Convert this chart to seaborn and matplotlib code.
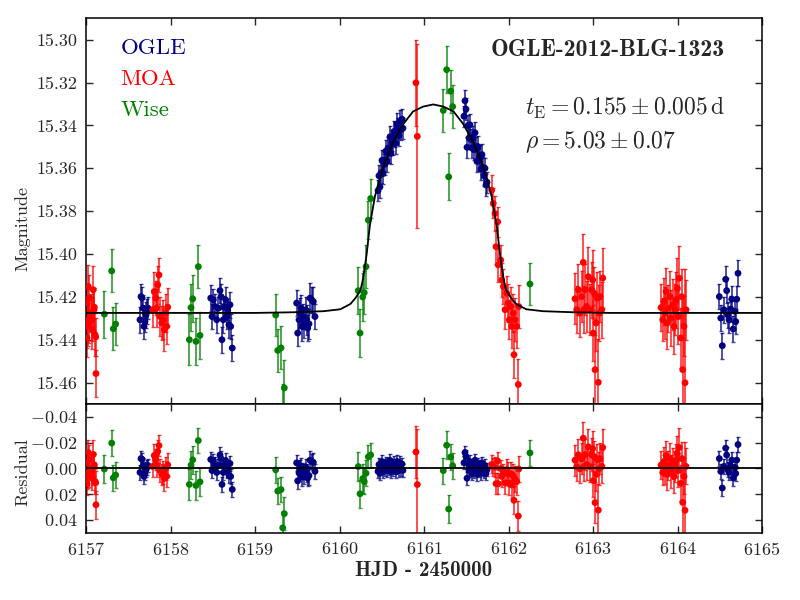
import numpy as np
import pandas as pd
import matplotlib
matplotlib.use("Agg")
import matplotlib.pyplot as plt
import seaborn as sns

# OGLE photometry (HJD - 2450000, I mag, error)
ogle_t = [6157.639, 6157.651, 6157.664, 6157.678, 6157.686, 6157.698, 6157.710, 6157.725, 6157.733,
          6158.476, 6158.491, 6158.507, 6158.527, 6158.547, 6158.566, 6158.586, 6158.598, 6158.609,
          6158.625, 6158.637, 6158.653, 6158.665, 6158.677, 6158.692, 6158.704, 6158.712, 6158.731,
          6159.493, 6159.505, 6159.521, 6159.533, 6159.544, 6159.560, 6159.572, 6159.583, 6159.600,
          6159.612, 6159.624, 6159.639, 6159.651, 6159.671, 6159.690, 6159.710,
          6160.456, 6160.467, 6160.479, 6160.491, 6160.503, 6160.515, 6160.527, 6160.538, 6160.550,
          6160.562, 6160.574, 6160.586, 6160.598, 6160.609, 6160.621, 6160.633, 6160.645, 6160.657,
          6160.669, 6160.680, 6160.692, 6160.704, 6160.716, 6160.728, 6160.740, 6160.751,
          6161.473, 6161.485, 6161.497, 6161.509, 6161.521, 6161.533, 6161.544, 6161.556, 6161.568,
          6161.580, 6161.592, 6161.604, 6161.615, 6161.627, 6161.639, 6161.651, 6161.663, 6161.675,
          6161.686, 6161.698, 6161.710, 6161.722, 6161.734, 6161.746,
          6164.495, 6164.512, 6164.530, 6164.550, 6164.570, 6164.582, 6164.594, 6164.609, 6164.630,
          6164.642, 6164.660, 6164.680, 6164.689, 6164.701, 6164.716]
ogle_mag = [15.4307, 15.4199, 15.4205, 15.4253, 15.4338, 15.4315, 15.4284, 15.4268, 15.4253,
            15.4206, 15.4292, 15.4214, 15.4245, 15.4307, 15.4253, 15.4171, 15.4199, 15.4400,
            15.4307, 15.4245, 15.4214, 15.4292, 15.4260, 15.4330, 15.4237, 15.4338, 15.4439,
            15.4229, 15.4369, 15.4307, 15.4276, 15.4253, 15.4338, 15.4292, 15.4322, 15.4260,
            15.4307, 15.4346, 15.4326, 15.4206, 15.4214, 15.4222, 15.4292,
            15.3704, 15.3635, 15.3687, 15.3621, 15.3563, 15.3625, 15.3563, 15.3581, 15.3520,
            15.3568, 15.3506, 15.3525, 15.3453, 15.3531, 15.3470, 15.3487, 15.3428, 15.3450,
            15.3482, 15.3393, 15.3415, 15.3447, 15.3378, 15.3420, 15.3371, 15.3413,
            15.3357, 15.3285, 15.3324, 15.3502, 15.3400, 15.3459, 15.3397, 15.3465, 15.3504,
            15.3452, 15.3513, 15.3434, 15.3506, 15.3568, 15.3499, 15.3561, 15.3543, 15.3604,
            15.3536, 15.3597, 15.3633, 15.3600, 15.3678, 15.3665,
            15.4199, 15.4299, 15.4428, 15.4260, 15.4118, 15.4171, 15.4284, 15.4307, 15.4257,
            15.4211, 15.4350, 15.4268, 15.4315, 15.4211, 15.4090]
ogle_err = [0.006, 0.006, 0.005, 0.006, 0.006, 0.005, 0.006, 0.006, 0.005,
            0.006, 0.006, 0.005, 0.006, 0.006, 0.005, 0.006, 0.006, 0.006,
            0.006, 0.005, 0.006, 0.006, 0.005, 0.006, 0.006, 0.006, 0.006,
            0.006, 0.006, 0.006, 0.007, 0.006, 0.007, 0.006, 0.007, 0.006,
            0.007, 0.006, 0.007, 0.007, 0.006, 0.007, 0.006,
            0.005, 0.005, 0.005, 0.005, 0.005, 0.005, 0.005, 0.005, 0.005,
            0.005, 0.005, 0.005, 0.005, 0.005, 0.005, 0.005, 0.005, 0.005,
            0.005, 0.005, 0.005, 0.005, 0.005, 0.005, 0.005, 0.005,
            0.005, 0.005, 0.005, 0.005, 0.005, 0.005, 0.005, 0.005, 0.005,
            0.005, 0.005, 0.005, 0.005, 0.005, 0.005, 0.005, 0.005, 0.005,
            0.005, 0.005, 0.005, 0.005, 0.005, 0.005,
            0.006, 0.006, 0.006, 0.006, 0.006, 0.006, 0.006, 0.006, 0.006,
            0.006, 0.006, 0.006, 0.006, 0.006, 0.006]

# MOA photometry
moa_t = [6157.008, 6157.010, 6157.012, 6157.024, 6157.027, 6157.030, 6157.039, 6157.056, 6157.067,
         6157.075, 6157.086, 6157.095, 6157.098, 6157.107, 6157.115, 6157.118,
         6157.789, 6157.808, 6157.825, 6157.837, 6157.849, 6157.864, 6157.876, 6157.896, 6157.915,
         6157.927, 6157.943, 6157.955, 6157.967,
         6160.905, 6160.921,
         6161.801, 6161.820, 6161.840, 6161.872, 6161.852, 6161.879, 6161.908, 6161.920, 6161.939,
         6161.959, 6161.979, 6161.998, 6162.010, 6162.026, 6162.038, 6162.057, 6162.065, 6162.077,
         6162.097, 6162.116, 6162.121,
         6162.787, 6162.807, 6162.826, 6162.846, 6162.866, 6162.885, 6162.893, 6162.905, 6162.925,
         6162.944, 6162.964, 6162.984, 6162.996, 6163.004, 6163.015, 6163.024, 6163.036, 6163.051,
         6163.063, 6163.075, 6163.083, 6163.103, 6163.115,
         6163.805, 6163.825, 6163.840, 6163.852, 6163.864, 6163.879, 6163.891, 6163.911, 6163.923,
         6163.943, 6163.959, 6163.970, 6163.982, 6163.998, 6164.009, 6164.021, 6164.038, 6164.050,
         6164.062, 6164.077, 6164.089, 6164.101]
moa_mag = [15.4228, 15.4338, 15.4392, 15.4330, 15.4152, 15.4307, 15.4206, 15.4276, 15.4307,
           15.4353, 15.4167, 15.4260, 15.4248, 15.4377, 15.4387, 15.4558,
           15.4260, 15.4175, 15.4206, 15.4253, 15.4144, 15.4098, 15.4292, 15.4322, 15.4307,
           15.4353, 15.4276, 15.4338, 15.4248,
           15.3201, 15.3451,
           15.3702, 15.3764, 15.3811, 15.3850, 15.3966, 15.4051, 15.4028, 15.4121, 15.4152,
           15.4260, 15.4183, 15.4229, 15.4307, 15.4245, 15.4338, 15.4276, 15.4470, 15.4307,
           15.4338, 15.4609, 15.4245,
           15.4209, 15.4260, 15.4167, 15.4276, 15.4199, 15.4039, 15.4260, 15.4167, 15.4245,
           15.4106, 15.4260, 15.4167, 15.4121, 15.4369, 15.4183, 15.4540, 15.4322, 15.4206,
           15.4599, 15.4276, 15.4199, 15.4260, 15.4112,
           15.4250, 15.4307, 15.4222, 15.4276, 15.4175, 15.4322, 15.4253, 15.4199, 15.4299,
           15.4237, 15.4338, 15.4260, 15.4214, 15.4160, 15.4292, 15.4113, 15.4392, 15.4199,
           15.4540, 15.4338, 15.4601, 15.4260]
moa_err = [0.009, 0.010, 0.009, 0.010, 0.010, 0.011, 0.011, 0.009, 0.010,
           0.009, 0.011, 0.010, 0.009, 0.010, 0.009, 0.011,
           0.008, 0.009, 0.008, 0.009, 0.009, 0.008, 0.009, 0.008, 0.009,
           0.010, 0.009, 0.008, 0.009,
           0.020, 0.043,
           0.007, 0.007, 0.008, 0.007, 0.008, 0.008, 0.007, 0.008, 0.008,
           0.009, 0.008, 0.009, 0.009, 0.009, 0.010, 0.009, 0.011, 0.010,
           0.010, 0.012, 0.010,
           0.012, 0.011, 0.012, 0.011, 0.012, 0.013, 0.011, 0.012, 0.012,
           0.014, 0.012, 0.013, 0.014, 0.013, 0.012, 0.016, 0.013, 0.012,
           0.020, 0.013, 0.012, 0.013, 0.014,
           0.011, 0.010, 0.011, 0.012, 0.011, 0.012, 0.011, 0.012, 0.013,
           0.012, 0.013, 0.012, 0.013, 0.014, 0.013, 0.015, 0.014, 0.013,
           0.035, 0.014, 0.053, 0.014]

# Wise photometry
wise_t = [6157.217, 6157.304, 6157.323, 6157.351,
          6158.223, 6158.243, 6158.263, 6158.302, 6158.329, 6158.349,
          6159.245, 6159.269, 6159.308, 6159.328, 6159.347,
          6160.222, 6160.243, 6160.275, 6160.293, 6160.314, 6160.341, 6160.369,
          6161.228, 6161.268, 6161.292, 6161.316, 6161.339,
          6162.254]
wise_mag = [15.4281, 15.4079, 15.4349, 15.4327,
            15.4400, 15.4250, 15.4209, 15.4408, 15.4059, 15.4380,
            15.4285, 15.4450, 15.4438, 15.4735, 15.4625,
            15.4171, 15.4369, 15.4201, 15.4180, 15.4059, 15.3842, 15.3741,
            15.3330, 15.3140, 15.3640, 15.3240, 15.3312,
            15.4140]
wise_err = [0.011, 0.010, 0.010, 0.010,
            0.012, 0.011, 0.011, 0.011, 0.010, 0.011,
            0.010, 0.010, 0.010, 0.013, 0.013,
            0.011, 0.011, 0.011, 0.010, 0.010, 0.009, 0.009,
            0.010, 0.011, 0.011, 0.010, 0.010,
            0.010]

# best-fit finite-source model
model_t = [6157.0, 6159.0, 6159.45, 6159.81, 6160.01, 6160.13, 6160.19, 6160.25, 6160.28,
           6160.32, 6160.36, 6160.42, 6160.52, 6160.64, 6160.76, 6160.87, 6160.99, 6161.11,
           6161.23, 6161.35, 6161.46, 6161.58, 6161.70, 6161.80, 6161.86, 6161.90, 6161.94,
           6161.97, 6162.03, 6162.09, 6162.21, 6162.41, 6162.77, 6163.2, 6165.0]
model_mag = [15.4275, 15.4275, 15.4272, 15.4267, 15.4258, 15.4233, 15.4205, 15.4167, 15.4112,
             15.4005, 15.3865, 15.3730, 15.3591, 15.3474, 15.3391, 15.3335, 15.3312, 15.3302,
             15.3312, 15.3335, 15.3391, 15.3474, 15.3591, 15.3730, 15.3865, 15.4005, 15.4112,
             15.4167, 15.4205, 15.4233, 15.4258, 15.4267, 15.4272, 15.4275, 15.4275]

labels = ["OGLE", "MOA", "Wise"]
colors = {"OGLE": "#000080", "MOA": "#ff0000", "Wise": "#008000"}

frames = []
for name, t, m, e in [("OGLE", ogle_t, ogle_mag, ogle_err),
                      ("MOA", moa_t, moa_mag, moa_err),
                      ("Wise", wise_t, wise_mag, wise_err)]:
    frames.append(pd.DataFrame({"t": t, "mag": m, "err": e, "tel": name}))
df = pd.concat(frames, ignore_index=True)
df["resid"] = df["mag"] - np.interp(df["t"], model_t, model_mag)

sns.set_style("ticks")
plt.rcParams["font.family"] = ["cmr10", "DejaVu Serif"]
plt.rcParams["mathtext.fontset"] = "cm"
plt.rcParams["axes.formatter.use_mathtext"] = True
plt.rcParams["axes.unicode_minus"] = True

fig = plt.figure(figsize=(8, 6), dpi=100)
ax1 = fig.add_axes([0.1075, 0.3267, 0.845, 0.6428])
ax2 = fig.add_axes([0.1075, 0.1122, 0.845, 0.2145], sharex=ax1)

for name in labels:
    d = df[df["tel"] == name]
    ax1.errorbar(d["t"], d["mag"], yerr=d["err"], fmt="none", ecolor=colors[name],
                 alpha=0.75, elinewidth=1.3, capsize=1.5, zorder=2)
    ax2.errorbar(d["t"], d["resid"], yerr=d["err"], fmt="none", ecolor=colors[name],
                 alpha=0.75, elinewidth=1.3, capsize=1.5, zorder=2)

sns.scatterplot(data=df, x="t", y="mag", hue="tel", palette=colors, hue_order=labels,
                s=24, linewidth=0, legend=False, ax=ax1, zorder=3)
sns.scatterplot(data=df, x="t", y="resid", hue="tel", palette=colors, hue_order=labels,
                s=24, linewidth=0, legend=False, ax=ax2, zorder=3)

ax1.plot(model_t, model_mag, color="black", lw=1.3, zorder=4)
ax2.axhline(0.0, color="black", lw=1.3, zorder=4)

ax1.set_xlim(6157, 6165)
ax1.set_ylim(15.47, 15.29)
ax1.set_yticks(np.arange(15.30, 15.47, 0.02))
ax1.set_yticklabels(["%.2f" % v for v in np.arange(15.30, 15.47, 0.02)])
ax2.set_ylim(0.05, -0.05)
ax2.set_yticks([-0.04, -0.02, 0.0, 0.02, 0.04])
ax2.set_xticks(range(6157, 6166))
ax1.tick_params(labelbottom=False)

for ax in (ax1, ax2):
    ax.tick_params(direction="in", top=True, right=True, length=5, width=1,
                   labelsize=13, pad=6)
    for sp in ax.spines.values():
        sp.set_linewidth(1.1)
        sp.set_color("black")
    ax.set_xlabel("")
    ax.set_ylabel("")

ax1.set_ylabel("Magnitude", fontsize=13)
ax2.set_ylabel("Residual", fontsize=13)
ax1.yaxis.set_label_coords(-0.083, 0.455)
ax2.yaxis.set_label_coords(-0.083, 0.47)
ax2.set_xlabel("HJD - 2450000", fontsize=15, family=["cmb10", "DejaVu Serif"])
ax2.xaxis.set_label_coords(0.5, -0.22)

for i, name in enumerate(labels):
    ax1.text(0.051, 0.922 - 0.08 * i, name, color=colors[name], fontsize=16.5,
             transform=ax1.transAxes, ha="left", va="center")
ax1.text(0.945, 0.918, "OGLE-2012-BLG-1323", fontsize=17, family=["cmb10", "DejaVu Serif"],
         transform=ax1.transAxes, ha="right", va="center")
ax1.text(0.649, 0.767, r"$t_{\rm E} = 0.155 \pm 0.005\,{\rm d}$", fontsize=17,
         transform=ax1.transAxes, ha="left", va="center")
ax1.text(0.649, 0.68, r"$\rho = 5.03 \pm 0.07$", fontsize=17,
         transform=ax1.transAxes, ha="left", va="center")

fig.savefig("out.png", dpi=100)
